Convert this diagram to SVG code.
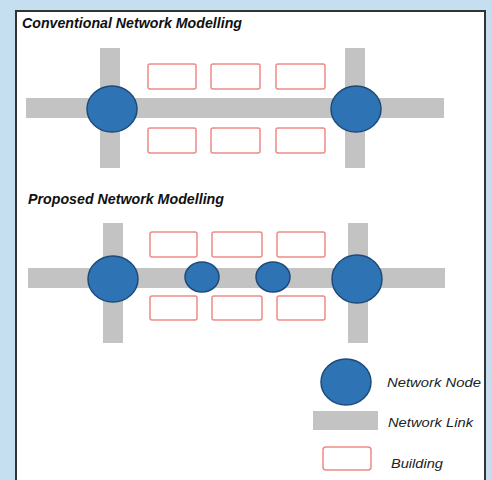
<svg xmlns="http://www.w3.org/2000/svg" width="491" height="480" viewBox="0 0 491 480">
<style>
.road{fill:#c3c3c3}
.node{fill:#2e74b5;stroke:#1d4a78;stroke-width:1.5}
.bld{fill:#fff;stroke:#ee8a86;stroke-width:1.5}
.title{font-family:"Liberation Sans",Arial,sans-serif;font-weight:bold;font-style:italic;font-size:14.5px;fill:#111}
.leg{font-family:"Liberation Sans",Arial,sans-serif;font-style:italic;font-size:13.5px;fill:#222}
</style>
<rect x="0" y="0" width="491" height="480" fill="#c5dff0"/>
<rect x="16" y="11" width="469" height="475" fill="#fff" stroke="#333" stroke-width="2"/>
<text class="title" x="22" y="28" textLength="220" lengthAdjust="spacingAndGlyphs">Conventional Network Modelling</text>
<text class="title" x="28" y="204" textLength="196" lengthAdjust="spacingAndGlyphs">Proposed Network Modelling</text>
<g id="connectors">
<rect class="road" x="100" y="48" width="20" height="120"/>
<rect class="road" x="345" y="48" width="20" height="120"/>
<rect class="road" x="26" y="98" width="418" height="20"/>
<rect class="road" x="103" y="223" width="20" height="120"/>
<rect class="road" x="348" y="223" width="20" height="120"/>
<rect class="road" x="28" y="268" width="417" height="20"/>
</g>
<g id="buildings">
<rect class="bld" x="148" y="64" width="48" height="25" rx="2"/>
<rect class="bld" x="211" y="64" width="49" height="25" rx="2"/>
<rect class="bld" x="276" y="64" width="49" height="25" rx="2"/>
<rect class="bld" x="148" y="128" width="48" height="25" rx="2"/>
<rect class="bld" x="211" y="128" width="49" height="25" rx="2"/>
<rect class="bld" x="276" y="128" width="49" height="25" rx="2"/>
<rect class="bld" x="150" y="232" width="47" height="25" rx="2"/>
<rect class="bld" x="212" y="232" width="50" height="25" rx="2"/>
<rect class="bld" x="277" y="232" width="48" height="25" rx="2"/>
<rect class="bld" x="150" y="296" width="47" height="24" rx="2"/>
<rect class="bld" x="212" y="296" width="50" height="24" rx="2"/>
<rect class="bld" x="277" y="296" width="48" height="24" rx="2"/>
</g>
<g id="node-c1"><ellipse class="node" cx="112" cy="109" rx="25" ry="23"/></g>
<g id="node-c2"><ellipse class="node" cx="356" cy="109" rx="25" ry="23"/></g>
<g id="node-p1"><ellipse class="node" cx="113" cy="279" rx="25" ry="23"/></g>
<g id="node-p2"><ellipse class="node" cx="202" cy="277" rx="17" ry="15"/></g>
<g id="node-p3"><ellipse class="node" cx="273" cy="277" rx="17" ry="15"/></g>
<g id="node-p4"><ellipse class="node" cx="357" cy="279" rx="25" ry="24"/></g>
<g id="legend">
<ellipse class="node" cx="346" cy="382" rx="25" ry="23"/>
<rect class="road" x="313" y="411" width="65" height="19"/>
<rect class="bld" x="323" y="447" width="48" height="23" rx="3"/>
<text class="leg" x="387" y="387" textLength="94" lengthAdjust="spacingAndGlyphs">Network Node</text>
<text class="leg" x="388" y="427" textLength="85" lengthAdjust="spacingAndGlyphs">Network Link</text>
<text class="leg" x="391" y="468" textLength="52" lengthAdjust="spacingAndGlyphs">Building</text>
</g>
</svg>
